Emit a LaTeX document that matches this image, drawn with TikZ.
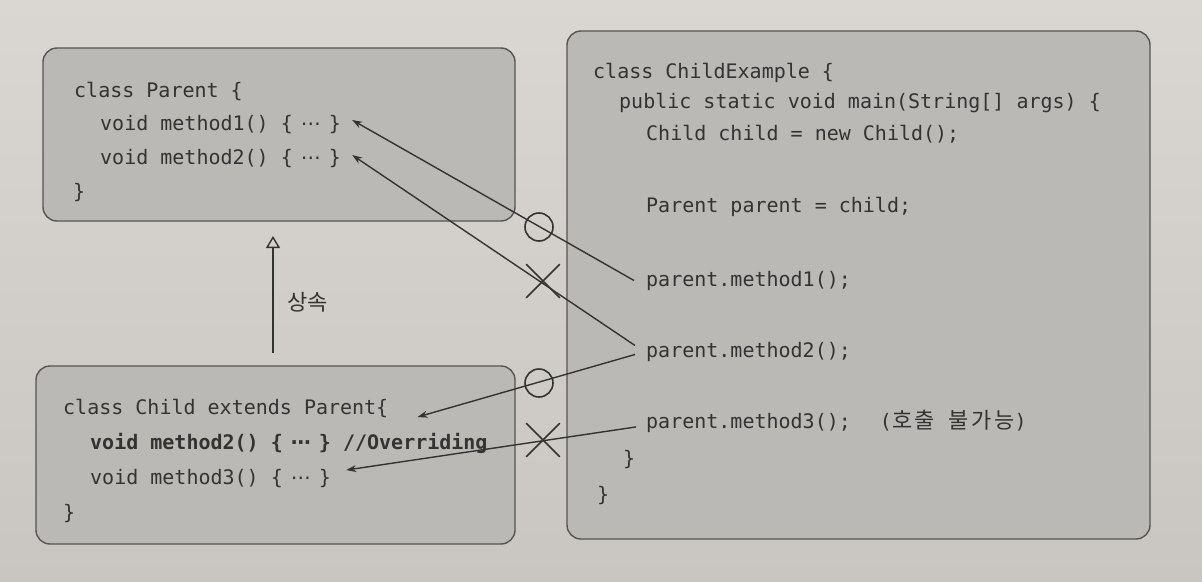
\documentclass[tikz,border=0pt]{standalone}
\usepackage{fontspec}
\usetikzlibrary{arrows.meta,shapes.misc}
\newfontfamily\codefont{DejaVu Sans Mono}
\newfontfamily\dvsans{DejaVu Sans}
\newfontfamily\kofont{Noto Sans CJK KR}
\definecolor{bgtop}{HTML}{DAD6D2}
\definecolor{bgbot}{HTML}{C9C5C1}
\definecolor{boxfill}{HTML}{BBB9B6}
\definecolor{boxline}{HTML}{555555}
\definecolor{ink}{HTML}{333333}
\newcommand{\midots}{\makebox[12.04pt][c]{\dvsans ⋯}}
\begin{document}
\begin{tikzpicture}[x=1pt,y=-1pt,
  code/.style={font=\codefont\fontsize{20}{24}\selectfont, text=ink, anchor=base west, inner sep=0pt},
  kor/.style={font=\kofont\fontsize{22}{24}\selectfont, text=ink, inner sep=0pt},
  panel/.style={draw=boxline, line width=1.4pt, fill=boxfill, rounded corners=14pt},
  link/.style={draw=ink, line width=1.4pt, -{Stealth[length=10pt,width=7pt]}},
  okmark/.style={circle, draw=ink, line width=1.6pt, minimum size=28pt, inner sep=0pt},
  nomark/.style={cross out, draw=ink, line width=1.6pt, minimum size=32pt, inner sep=0pt},
  inherit/.style={draw=ink, line width=1.4pt, -{Triangle[open, length=12pt, width=14pt]}}
]
\useasboundingbox (0,0) rectangle (1202,581);
\shade[top color=bgtop, bottom color=bgbot] (0,0) rectangle (1202,581);

% panels
\path[panel] (43,48) rectangle (515,221);
\path[panel] (36,366) rectangle (515,544);
\path[panel] (567,31) rectangle (1150,539);

% Parent class
\node[code] (pcls) at (74,97) {class Parent \{};
\node[code] (pm1) at (100,130) {void method1() \{ \midots\ \}};
\node[code] (pm2) at (100,164) {void method2() \{ \midots\ \}};
\node[code] (pend) at (73,198) {\}};

% Child class
\node[code] (ccls) at (63,414) {class Child extends Parent\{};
\node[code] (cm2) at (90,449) {\bfseries void method2() \{ \midots\ \} //Overriding};
\node[code] (cm3) at (90,484) {void method3() \{ \midots\ \}};
\node[code] (cend) at (63,519) {\}};

% ChildExample
\node[code] (ecls) at (593,78) {class ChildExample \{};
\node[code] (emain) at (619,108) {public static void main(String[] args) \{};
\node[code] (echild) at (646,140) {Child child = new Child();};
\node[code] (eparent) at (646,212) {Parent parent = child;};
\node[code] (e1) at (646,286) {parent.method1();};
\node[code] (e2) at (646,357) {parent.method2();};
\node[code] (e3) at (646,428) {parent.method3();~~\hspace{5pt}({\kofont\fontsize{22}{24}\selectfont 호\hspace{2.5pt}출\hspace{14pt}불\hspace{2.5pt}가\hspace{2.5pt}능})};
\node[code] (eend1) at (623,465) {\}};
\node[code] (eend2) at (597,501) {\}};

% inheritance
\coordinate (inhS) at (273,353);
\coordinate (inhE) at (273,236);
\draw[inherit] (inhS) -- (inhE);
\node[kor, anchor=west] (inh) at (287,302) {상속};

% calls
\draw[link] ([xshift=-12pt]e1.west) -- ([xshift=11pt,yshift=4pt]pm1.east);
\draw[link] ([xshift=-11pt,yshift=6pt]e2.west) -- ([xshift=11pt,yshift=3pt]pm2.east);
\draw[link] ([xshift=-11pt,yshift=-3pt]e2.west) -- ([xshift=29pt,yshift=-3pt]ccls.base east);
\draw[link] ([xshift=-10pt,yshift=-6pt]e3.west) -- ([xshift=15pt,yshift=8pt]cm3.east);

% marks
\node[okmark] (ok1) at (539,227) {};
\node[nomark] (no1) at (543,281) {};
\node[okmark] (ok2) at (539,383) {};
\node[nomark] (no2) at (543,440) {};
\end{tikzpicture}
\end{document}
